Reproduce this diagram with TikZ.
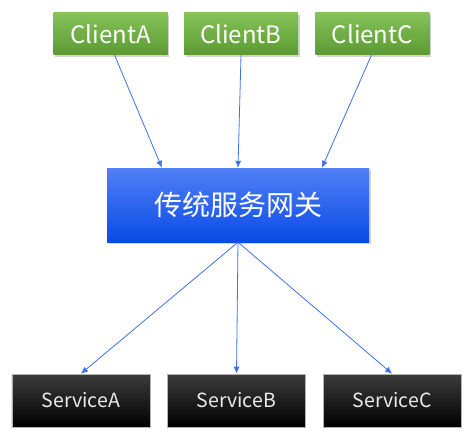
\documentclass[tikz,border=0pt]{standalone}
\usepackage{fontspec}
\setmainfont{Noto Sans CJK SC}
\usepackage{xcolor}
\usetikzlibrary{arrows.meta, positioning, calc, shadows}

\definecolor{cltop}{HTML}{86C35A}
\definecolor{clbot}{HTML}{5A9A30}
\definecolor{gwtop}{HTML}{5080F5}
\definecolor{gwbot}{HTML}{0A4AE6}
\definecolor{svtop}{HTML}{3C3C3C}
\definecolor{arrowblue}{HTML}{3D72EF}

\tikzset{
  client/.style={minimum width=114pt, minimum height=42pt, inner sep=0pt,
    top color=cltop, bottom color=clbot, text=white, font=\fontsize{24}{28}\selectfont,
    drop shadow={opacity=0.35, shadow xshift=1.5pt, shadow yshift=-2pt}},
  gateway/.style={minimum width=262pt, minimum height=74pt, inner sep=0pt,
    top color=gwtop, bottom color=gwbot, text=white, font=\fontsize{28}{32}\selectfont,
    drop shadow={opacity=0.35, shadow xshift=1.5pt, shadow yshift=-2pt}},
  service/.style={minimum width=138pt, minimum height=53pt, inner sep=0pt,
    draw=gray!60, line width=0.6pt, top color=svtop, bottom color=black,
    text=white!92!black, font=\fontsize{19.5}{23}\selectfont},
  link/.style={-{Latex[length=7pt, width=6pt]}, draw=arrowblue, line width=0.8pt}
}

\begin{document}
\begin{tikzpicture}[x=1pt, y=-1pt, node distance=16pt]
\useasboundingbox (0,0) rectangle (470,441);
\fill[white] (0,0) rectangle (470,441);

% clients
\node[client] (cb) at (241,34) {ClientB};
\node[client, left=of cb] (ca) {ClientA};
\node[client, right=17pt of cb] (cc) {ClientC};

% gateway
\node[gateway] (gw) at (238,205) {传统服务网关};

% services
\node[service] (sb) at (236.5,400.5) {ServiceB};
\node[service, left=17pt of sb] (sa) {ServiceA};
\node[service, right=17pt of sb] (sc) {ServiceC};

\draw[link] ($(ca.south)+(4,0)$) -- ($(gw.north west)!0.21!(gw.north east)$);
\draw[link] (cb.south) -- ($(gw.north west)!0.5!(gw.north east)$);
\draw[link] ($(cc.south)+(-1,0)$) -- ($(gw.north west)!0.82!(gw.north east)$);

\draw[link] (gw.south) -- (sa.north);
\draw[link] (gw.south) -- (sb.north);
\draw[link] (gw.south) -- (sc.north);
\end{tikzpicture}
\end{document}
